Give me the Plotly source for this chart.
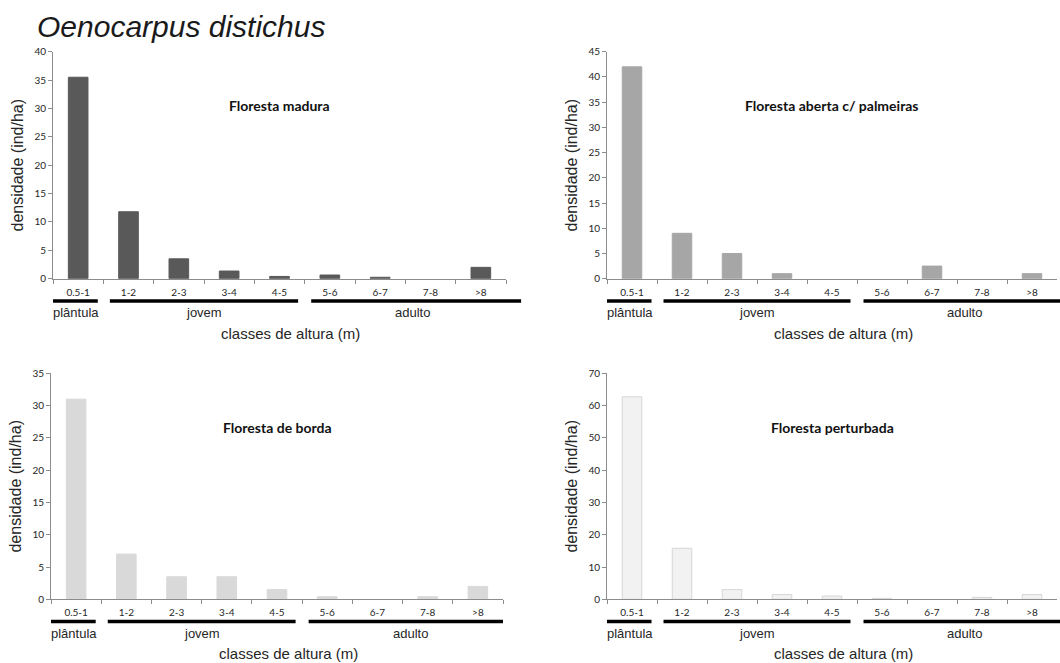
import plotly.graph_objects as go

# Height classes (m) and life-stage groups
classes = ["0.5-1", "1-2", "2-3", "3-4", "4-5", "5-6", "6-7", "7-8", ">8"]
stages = ["plântula", "jovem", "adulto"]

# Density (ind/ha) per forest type
madura = [35.5, 11.8, 3.5, 1.35, 0.4, 0.65, 0.25, 0.0, 2.0]
aberta_palmeiras = [42.0, 9.0, 5.0, 1.0, 0.0, 0.0, 2.5, 0.0, 1.0]
borda = [31.0, 7.0, 3.5, 3.5, 1.5, 0.4, 0.0, 0.4, 2.0]
perturbada = [62.7, 15.8, 3.0, 1.5, 1.0, 0.3, 0.0, 0.6, 1.5]

panels = [
    dict(name="Floresta madura", values=madura, ymax=40, dtick=5,
         fill="#595959", edge="#595959", adult_end=8.8,
         xdom=(53, 506), ydom=(51.7, 278.7)),
    dict(name="Floresta aberta c/ palmeiras", values=aberta_palmeiras, ymax=45, dtick=5,
         fill="#a6a6a6", edge="#a6a6a6", adult_end=8.8,
         xdom=(607, 1057), ydom=(51.7, 278.7)),
    dict(name="Floresta de borda", values=borda, ymax=35, dtick=5,
         fill="#d9d9d9", edge="#d9d9d9", adult_end=8.5,
         xdom=(51, 503), ydom=(373.3, 599.3)),
    dict(name="Floresta perturbada", values=perturbada, ymax=70, dtick=10,
         fill="#f2f2f2", edge="#d6d6d6", adult_end=8.8,
         xdom=(607, 1057), ydom=(373.3, 599.3)),
]

W, H = 1060, 663
fig = go.Figure()

# stage bar starts/ends in category-index units, and label centres
stage_starts = [-0.5, 0.63, 4.63]
stage_ends = [0.39, 4.37, None]  # last one is set per panel
stage_label_x = [-0.05, 2.5, 6.65]
n_cls = len(classes)


def to_domain(c):
    """Category index -> fraction of the x-axis domain."""
    return (c + 0.5) / n_cls


shapes = []
annotations = []
axis_font = dict(family="Lato, 'Open Sans', sans-serif", size=10, color="#262626")

for i, p in enumerate(panels, start=1):
    xa = "x" if i == 1 else f"x{i}"
    ya = "y" if i == 1 else f"y{i}"
    # no outline on empty classes
    edge_w = [1 if v > 0 else 0 for v in p["values"]]
    fig.add_trace(go.Bar(
        x=classes, y=p["values"], xaxis=xa, yaxis=ya, width=0.39,
        marker=dict(color=p["fill"], line=dict(color=p["edge"], width=edge_w)),
        showlegend=False, hoverinfo="x+y",
    ))
    x0, x1 = p["xdom"][0] / W, p["xdom"][1] / W
    y0, y1 = 1 - p["ydom"][1] / H, 1 - p["ydom"][0] / H
    xkey = "xaxis" if i == 1 else f"xaxis{i}"
    ykey = "yaxis" if i == 1 else f"yaxis{i}"
    fig.update_layout(**{
        xkey: dict(
            domain=[x0, x1], anchor=ya, type="category",
            categoryorder="array", categoryarray=classes, automargin=False,
            range=[-0.5, 8.5], showline=True, linecolor="#8c8c8c", linewidth=1,
            ticks="outside", tickson="boundaries", ticklen=4, tickcolor="#8c8c8c",
            tickfont=axis_font, showgrid=False, zeroline=False,
            ticklabelstandoff=4,
        ),
        ykey: dict(
            domain=[y0, y1], anchor=xa, range=[0, p["ymax"]], dtick=p["dtick"],
            automargin=False,
            showline=True, linecolor="#8c8c8c", linewidth=1,
            ticks="outside", ticklen=4, tickcolor="#8c8c8c",
            tickfont=axis_font, showgrid=False, zeroline=False,
            title=dict(text="densidade (ind/ha)",
                       font=dict(family="Arial, 'Liberation Sans', sans-serif",
                                 size=16, color="#262626"),
                       standoff=6),
        ),
    })

    # panel heading
    annotations.append(dict(
        text=f"<b>{p['name']}</b>", xref=f"{xa} domain", yref=f"{ya} domain",
        x=0.5, y=1 - 54 / 227, showarrow=False,
        xanchor="center", yanchor="middle",
        font=dict(family="Lato, 'Open Sans', sans-serif", size=14, color="#111111"),
    ))

    # life-stage bars and labels under the axis
    ends = stage_ends[:2] + [p["adult_end"]]
    for s0, s1, lx, lab in zip(stage_starts, ends, stage_label_x, stages):
        shapes.append(dict(
            type="line", xref=f"{xa} domain", yref=f"{ya} domain",
            x0=to_domain(s0), x1=to_domain(s1), y0=-22.3 / 227, y1=-22.3 / 227,
            line=dict(color="#000000", width=3.5),
        ))
        annotations.append(dict(
            text=lab, xref=xa, yref=f"{ya} domain", x=lx, y=-34 / 227,
            showarrow=False, xanchor="center", yanchor="middle",
            font=dict(family="Arial, 'Liberation Sans', sans-serif", size=13, color="#262626"),
        ))

    # x axis title
    annotations.append(dict(
        text="classes de altura (m)", xref=f"{xa} domain", yref=f"{ya} domain",
        x=0.525, y=-54.5 / 227, showarrow=False, xanchor="center", yanchor="middle",
        font=dict(family="Arial, 'Liberation Sans', sans-serif", size=15, color="#262626"),
    ))

# species name
annotations.append(dict(
    text="<i>Oenocarpus distichus</i>", xref="paper", yref="paper",
    x=35 / W, y=1 - 27 / H, showarrow=False, xanchor="left", yanchor="middle",
    font=dict(family="Arial, 'Liberation Sans', sans-serif", size=30, color="#1a1a1a"),
))

fig.update_layout(
    width=W, height=H, margin=dict(l=0, r=0, t=0, b=0, autoexpand=False),
    paper_bgcolor="white", plot_bgcolor="white",
    shapes=shapes, annotations=annotations, bargap=0.6,
)

fig.write_html("out.html")
